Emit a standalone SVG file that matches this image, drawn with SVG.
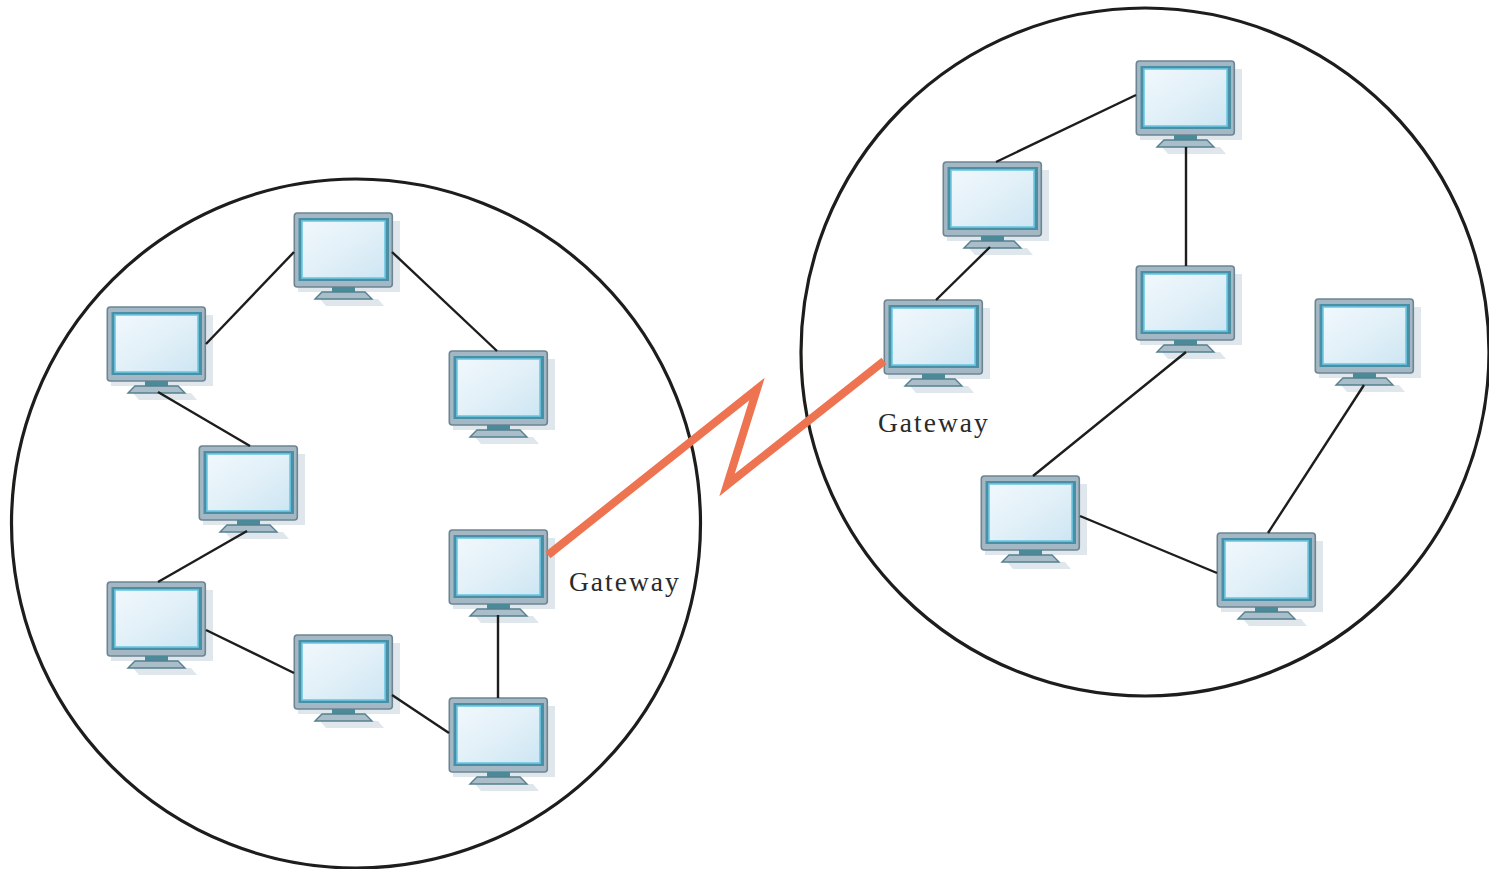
<svg xmlns="http://www.w3.org/2000/svg" xmlns:xlink="http://www.w3.org/1999/xlink" width="1489" height="869" viewBox="0 0 1489 869">
<style>
.net{fill:none;stroke:#1d1d1b;stroke-width:3.2}
.link{fill:none;stroke:#1d1d1b;stroke-width:2.4}
.wan{fill:none;stroke:#ee7350;stroke-width:8;stroke-miterlimit:12}
.lbl{font-family:"Liberation Serif","DejaVu Serif",serif;font-size:27.5px;letter-spacing:2px;fill:#2b2b2b}
</style>
<defs>
<linearGradient id="scr" x1="0" y1="0" x2="1" y2="1"><stop offset="0" stop-color="#f0f8fc"/><stop offset="0.5" stop-color="#e2f0f8"/><stop offset="1" stop-color="#cde6f3"/></linearGradient>
<symbol id="pc" width="112" height="95" viewBox="0 -1 112 95" overflow="visible">
<rect x="4" y="7" width="102" height="71" fill="#dfe7ed"/>
<path d="M26 85H84L90 92H32Z" fill="#dfe7ed"/>
<rect x="0.3" y="-1" width="98" height="74" rx="3" fill="#a3b8c4" stroke="#6d8592" stroke-width="1.6"/>
<rect x="4.5" y="4" width="90.5" height="63" fill="#4a8fa3"/>
<rect x="8" y="7" width="83" height="57" fill="url(#scr)" stroke="#6cc8e4" stroke-width="1.6"/>
<rect x="38" y="73" width="23" height="5" fill="#4a8a99"/>
<path d="M21 85L28 78H71L78 85Z" fill="#a9bec9" stroke="#56808f" stroke-width="1.4"/>
</symbol>
</defs>
<rect width="1489" height="869" fill="#ffffff"/>
<g id="networks">
<circle class="net" cx="356" cy="523.5" r="344.5"/>
<circle class="net" cx="1145" cy="352" r="344"/>
</g>
<g id="pc-l1"><use xlink:href="#pc" href="#pc" x="294" y="213"/></g>
<g id="pc-l2"><use xlink:href="#pc" href="#pc" x="107" y="307"/></g>
<g id="pc-l3"><use xlink:href="#pc" href="#pc" x="449" y="351"/></g>
<g id="pc-l4"><use xlink:href="#pc" href="#pc" x="199" y="446"/></g>
<g id="gateway-left"><use xlink:href="#pc" href="#pc" x="449" y="530"/><text class="lbl" x="569" y="591">Gateway</text></g>
<g id="pc-l5"><use xlink:href="#pc" href="#pc" x="107" y="582"/></g>
<g id="pc-l6"><use xlink:href="#pc" href="#pc" x="294" y="635"/></g>
<g id="pc-l7"><use xlink:href="#pc" href="#pc" x="449" y="698"/></g>
<g id="pc-r1"><use xlink:href="#pc" href="#pc" x="1136" y="61"/></g>
<g id="pc-r2"><use xlink:href="#pc" href="#pc" x="943" y="162"/></g>
<g id="pc-r3"><use xlink:href="#pc" href="#pc" x="1136" y="266"/></g>
<g id="gateway-right"><use xlink:href="#pc" href="#pc" x="884" y="300"/><text class="lbl" x="878" y="432">Gateway</text></g>
<g id="pc-r4"><use xlink:href="#pc" href="#pc" x="1315" y="299"/></g>
<g id="pc-r5"><use xlink:href="#pc" href="#pc" x="981" y="476"/></g>
<g id="pc-r6"><use xlink:href="#pc" href="#pc" x="1217" y="533"/></g>
<g id="connectors">
<path class="link" d="M294 252L206 344"/>
<path class="link" d="M392 252L497 351"/>
<path class="link" d="M158 392L250 446"/>
<path class="link" d="M247 531L158 582"/>
<path class="link" d="M206 630L294 673"/>
<path class="link" d="M392 695L449 733"/>
<path class="link" d="M498 615V698"/>
<path class="link" d="M1136 95L996 162"/>
<path class="link" d="M1186 147V266"/>
<path class="link" d="M990 247L936 300"/>
<path class="link" d="M1186 352L1033 476"/>
<path class="link" d="M1364 385L1268 533"/>
<path class="link" d="M1080 516L1217 573"/>
<path class="wan" d="M548 555L757 389L727 485L884 361"/>
</g>
</svg>
